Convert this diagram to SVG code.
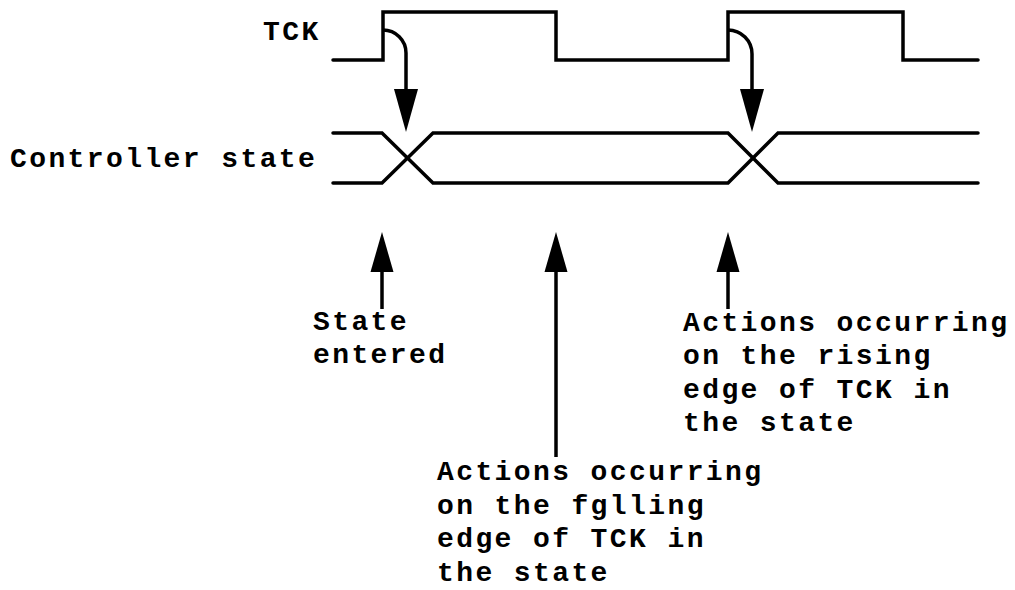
<svg xmlns="http://www.w3.org/2000/svg" width="1015" height="590" viewBox="0 0 1015 590">
<style>
.w{fill:none;stroke:#000;stroke-width:3.5;stroke-linejoin:miter;stroke-linecap:round}
.a{fill:none;stroke:#000;stroke-width:3.5;stroke-linecap:butt}
.t{font-family:"Liberation Mono","DejaVu Sans Mono",monospace;font-size:28px;letter-spacing:2.4px;font-weight:bold;fill:#000}
</style>
<defs>
<marker id="hd" markerUnits="userSpaceOnUse" markerWidth="44" markerHeight="26" refX="1" refY="12" orient="auto" viewBox="0 0 44 24">
<path d="M0,0 L43,12 L0,24 Z" fill="#000"/>
</marker>
<marker id="hu" markerUnits="userSpaceOnUse" markerWidth="42" markerHeight="25" refX="1" refY="11.5" orient="auto" viewBox="0 0 42 23">
<path d="M0,0 L40,11.5 L0,23 Z" fill="#000"/>
</marker>
</defs>
<rect width="1015" height="590" fill="#fff"/>
<g id="tck">
<text class="t" x="263" y="40">TCK</text>
<path class="w" d="M333,60 L383,60 L383,12 L556,12 L556,60 L728,60 L728,12 L903,12 L903,60 L978,60"/>
</g>
<g id="controller-state">
<text class="t" x="10" y="167">Controller state</text>
<path class="w" d="M333,133 L382,133 L433,183 L728,183 L778,133 L978,133"/>
<path class="w" d="M333,183 L382,183 L433,133 L728,133 L778,183 L978,183"/>
</g>
<g id="label-state-entered">
<text class="t" x="313" y="330">State</text>
<text class="t" x="313" y="363">entered</text>
</g>
<g id="label-falling">
<text class="t" x="437" y="480">Actions occurring</text>
<text class="t" x="437" y="514">on the fglling</text>
<text class="t" x="437" y="547">edge of TCK in</text>
<text class="t" x="437" y="581">the state</text>
</g>
<g id="label-rising">
<text class="t" x="683" y="331">Actions occurring</text>
<text class="t" x="683" y="364">on the rising</text>
<text class="t" x="683" y="398">edge of TCK in</text>
<text class="t" x="683" y="431">the state</text>
</g>
<g id="connectors">
<path class="a" d="M383,30 A23,23 0 0 1 406,53 L406,90" marker-end="url(#hd)"/>
<path class="a" d="M728,30 A24,24 0 0 1 752,54 L752,90" marker-end="url(#hd)"/>
<path class="a" d="M382,309 L382,271" marker-end="url(#hu)"/>
<path class="a" d="M556,457 L556,271" marker-end="url(#hu)"/>
<path class="a" d="M728,309 L728,271" marker-end="url(#hu)"/>
</g>
</svg>
